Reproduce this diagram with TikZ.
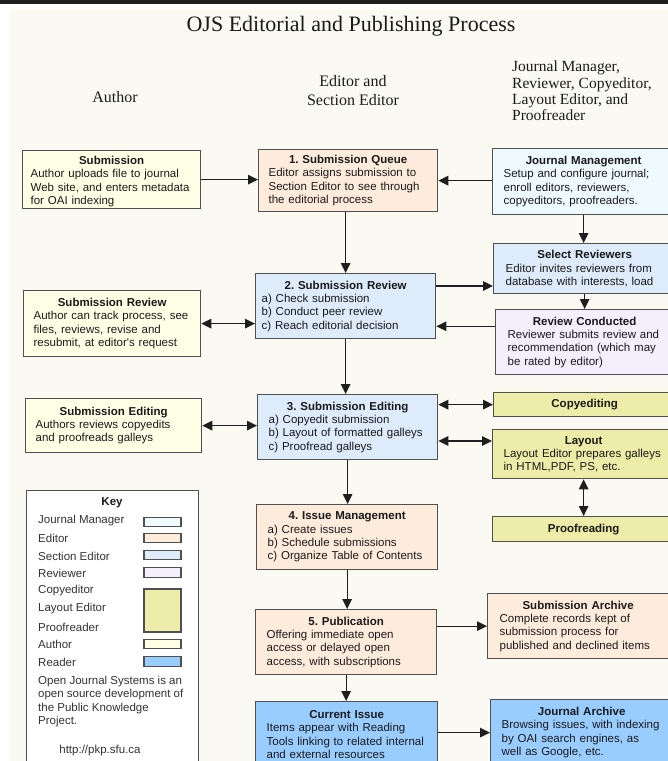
\documentclass[tikz,border=0pt]{standalone}
\usepackage{fontspec}
\setmainfont{Liberation Serif}
\newfontfamily\sansfam{Liberation Sans}
\usetikzlibrary{arrows.meta,calc}
\setlength{\parindent}{0pt}
\frenchspacing
\definecolor{bgbeige}{HTML}{FAFAF2}
\definecolor{cauthor}{HTML}{FFFFE6}
\definecolor{ceditor}{HTML}{FDEBDC}
\definecolor{csection}{HTML}{DDEBFB}
\definecolor{cjm}{HTML}{EEFAFD}
\definecolor{creviewer}{HTML}{F4EEFD}
\definecolor{ccopy}{HTML}{EDEDA9}
\definecolor{creader}{HTML}{99CCFF}
\definecolor{boxline}{HTML}{505050}
\definecolor{arrowcol}{HTML}{1E1E1E}
\definecolor{txt}{HTML}{1A1A1A}
\definecolor{keytxt}{HTML}{333333}
\newcommand{\boxfont}{\sansfam\fontsize{11.5}{13.3}\selectfont\frenchspacing}
\newcommand{\btitle}[1]{\hbox to\hsize{\hss\textbf{#1}\hss}\\}
\newcommand{\btitleonly}[1]{\hbox to\hsize{\hss\textbf{#1}\hss}}
\tikzset{
  box/.style={draw=boxline, line width=1.3pt, anchor=north west, inner xsep=11pt,
    inner ysep=0pt, align=left, font=\boxfont, text=txt},
  arr/.style={-{Triangle[length=10pt,width=9.5pt]}, line width=1.3pt, draw=arrowcol},
  darr/.style={{Triangle[length=10pt,width=9.5pt]}-{Triangle[length=10pt,width=9.5pt]},
    line width=1.3pt, draw=arrowcol},
  keyent/.style={anchor=west, font=\boxfont, text=keytxt, inner sep=0pt},
  swatch/.style={draw=boxline, line width=1.2pt, minimum width=37pt, inner sep=0pt},
  hdr/.style={font=\fontsize{16}{19}\selectfont, text=txt, align=center, inner sep=0pt},
}
\begin{document}
\begin{tikzpicture}[x=1pt,y=-1pt]
\useasboundingbox (0,0) rectangle (668,761);
\fill[white] (0,0) rectangle (668,761);
\fill[bgbeige] (10,10) rectangle (668,761);
\fill[black!88] (0,0) rectangle (668,3.5);

% title and headers
\node[font=\fontsize{22}{26}\selectfont, text=txt] (title) at (351,26) {OJS Editorial and Publishing Process};
\node[hdr] (hauth) at (115,97) {Author};
\node[hdr] (hed) at (353,91) {Editor and\\Section Editor};
\node[hdr, font=\fontsize{15.5}{16.4}\selectfont, align=left, anchor=west] (hrest) at (512,91)
  {Journal Manager,\\Reviewer, Copyeditor,\\Layout Editor, and\\Proofreader};

% boxes
\node[box, fill=cauthor, inner xsep=8pt, text width=162pt, minimum height=58pt] (sub) at (22,150)
  {\btitle{\rule{0pt}{12pt}Submission}Author uploads file to journal\\Web site, and enters metadata\\for OAI indexing};
\node[box, fill=ceditor, inner xsep=10pt, text width=159pt, minimum height=62pt] (queue) at (258,149)
  {\btitle{1. Submission Queue}Editor assigns submission to\\Section Editor to see through\\the editorial process};
\node[box, fill=cjm, text width=160pt, minimum height=66pt] (jm) at (492,148)
  {\btitle{Journal Management}Setup and configure journal;\\enroll editors, reviewers,\\copyeditors, proofreaders.};
\node[box, fill=csection, inner xsep=12pt, text width=158pt, minimum height=50pt] (sel) at (493,243)
  {\btitle{Select Reviewers}Editor invites reviewers from\\database with interests, load};
\node[box, fill=csection, inner xsep=6pt, text width=168pt, minimum height=65pt] (review) at (255,273)
  {\btitle{2. Submission Review}a) Check submission\\b) Conduct peer review\\c) Reach editorial decision};
\node[box, fill=cauthor, inner xsep=10pt, text width=157pt, minimum height=66pt] (asr) at (23,290)
  {\btitle{Submission Review}Author can track process, see\\files, reviews, revise and\\resubmit, at editor's request};
\node[box, fill=creviewer, inner xsep=12pt, text width=154pt, minimum height=65pt] (rc) at (495,309)
  {\btitle{Review Conducted}Reviewer submits review and\\recommendation (which may\\be rated by editor)};
\node[box, fill=cauthor, inner xsep=10pt, text width=156pt, minimum height=54pt] (ase) at (25,398)
  {\btitle{Submission Editing}Authors reviews copyedits\\and proofreads galleys};
\node[box, fill=csection, text width=158pt, minimum height=65pt] (editing) at (257,394)
  {\btitle{3. Submission Editing}a) Copyedit submission\\b) Layout of formatted galleys\\c) Proofread galleys};
\node[box, fill=ccopy, text width=160pt, minimum height=24pt] (copy) at (493,392)
  {\btitleonly{Copyediting}};
\node[box, fill=ccopy, text width=160pt, minimum height=49pt] (layout) at (492,429)
  {\btitle{Layout}Layout Editor prepares galleys\\in HTML,PDF, PS, etc.};
\node[box, fill=ccopy, text width=160pt, minimum height=25pt] (proof) at (492,516)
  {\btitleonly{Proofreading}};
\node[box, fill=ceditor, text width=159pt, minimum height=65pt] (issue) at (256,504)
  {\btitle{4. Issue Management}a) Create issues\\b) Schedule submissions\\c) Organize Table of Contents};
\node[box, fill=ceditor, text width=159pt, minimum height=65pt] (pub) at (255,609)
  {\btitle{5. Publication}Offering immediate open\\access or delayed open\\access, with subscriptions};
\node[box, fill=ceditor, inner xsep=12pt, text width=157pt, minimum height=65pt] (subarch) at (487,593)
  {\btitle{Submission Archive}Complete records kept of\\submission process for\\published and declined items};
\node[box, fill=creader, text width=160pt, minimum height=66pt] (cur) at (255,701)
  {\btitle{Current Issue}Items appear with Reading\\Tools linking to related internal\\and external resources};
\node[box, fill=creader, text width=160pt, minimum height=66pt] (ja) at (490,699)
  {\btitle{Journal Archive}Browsing issues, with indexing\\by OAI search engines, as\\well as Google, etc.};

% helper coordinates
\coordinate (revout) at ([yshift=-13pt]review.north east);
\coordinate (revin) at ([yshift=13pt]review.south east);
\coordinate (layin) at ([yshift=-12pt]layout.north west);

% connectors
\draw[arr] (sub.east) -- (sub.east -| queue.west);
\draw[arr] (queue.east -| jm.west) -- (queue.east);
\draw[arr] (queue.south -| review.north) -- (review.north);
\draw[arr] (jm.south) -- (jm.south |- sel.north);
\draw[arr] (revout) -- (revout -| sel.west);
\draw[arr] (sel.south) -- (sel.south |- rc.north);
\draw[arr] (revin -| rc.west) -- (revin);
\draw[darr] (asr.east) -- (asr.east -| review.west);
\draw[arr] (review.south) -- (review.south |- editing.north);
\draw[darr] (ase.east) -- (ase.east -| editing.west);
\draw[darr] (copy.west -| editing.east) -- (copy.west);
\draw[darr] (layin -| editing.east) -- (layin);
\draw[darr] (layout.south) -- (layout.south |- proof.north);
\draw[arr] (editing.south) -- (editing.south |- issue.north);
\draw[arr] (issue.south) -- (issue.south |- pub.north);
\draw[arr] (subarch.west -| pub.east) -- (subarch.west);
\draw[arr] (pub.south) -- (pub.south |- cur.north);
\draw[arr] (ja.west -| cur.east) -- (ja.west);

% key
\node[draw=boxline, line width=1.2pt, fill=white, anchor=north west, minimum width=172pt,
  minimum height=290pt, inner sep=0pt] (key) at (26,490) {};
\node[font=\boxfont\bfseries, text=txt, inner sep=0pt] (keyt) at (112,503) {Key};
\node[keyent] (k1) at (38,521) {Journal Manager};
\node[keyent] (k2) at (38,538) {Editor};
\node[keyent] (k3) at (38,556) {Section Editor};
\node[keyent] (k4) at (38,573) {Reviewer};
\node[keyent] (k5) at (38,591) {Copyeditor};
\node[keyent] (k6) at (38,609) {Layout Editor};
\node[keyent] (k7) at (38,627) {Proofreader};
\node[keyent] (k8) at (38,644) {Author};
\node[keyent] (k9) at (38,662) {Reader};
\node[swatch, fill=cjm, minimum height=9.5pt] (s1) at (162.5,522) {};
\node[swatch, fill=ceditor, minimum height=9.5pt] (s2) at (162.5,538) {};
\node[swatch, fill=csection, minimum height=9.5pt] (s3) at (162.5,555) {};
\node[swatch, fill=creviewer, minimum height=9.5pt] (s4) at (162.5,572.5) {};
\node[swatch, fill=ccopy, minimum height=43pt] (s5) at (162.5,610.5) {};
\node[swatch, fill=cauthor, minimum height=9.5pt] (s6) at (162.5,644) {};
\node[swatch, fill=creader, minimum height=9.5pt] (s7) at (162.5,661.5) {};
\node[anchor=north west, align=left, font=\boxfont, text=keytxt, inner sep=0pt] (foot) at (38,676)
  {Open Journal Systems is an\\open source development of\\the Public Knowledge\\Project.};
\node[font=\boxfont, text=keytxt, inner sep=0pt] (url) at (100,751) {http://pkp.sfu.ca};
\end{tikzpicture}
\end{document}
